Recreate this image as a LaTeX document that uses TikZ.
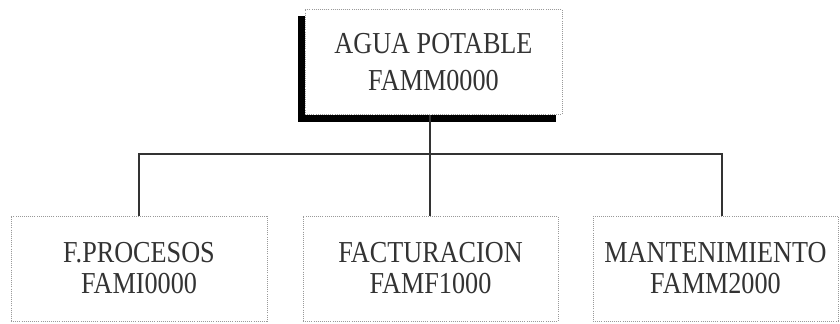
\documentclass[tikz,border=0pt]{standalone}
\usepackage{fontspec}
\setmainfont[FakeStretch=0.86]{Liberation Serif}
\usetikzlibrary{shadows}

\begin{document}
\begin{tikzpicture}[x=0.03cm,y=-0.03cm,
		famname/.style={draw=gray!80,densely dotted,line width=0.8pt,fill=white,
			align=center,inner sep=0pt,minimum height=3.15cm,
			font=\fontsize{26}{26.5}\selectfont,text=black!80},
		rootbox/.style={famname,minimum width=7.71cm,font=\fontsize{26}{31.5}\selectfont,
			copy shadow={shadow xshift=-0.21cm,shadow yshift=-0.21cm,fill=black,draw=black,solid}},
		link/.style={draw=black!80,line width=1.6pt}]
		\useasboundingbox (0,0) rectangle (840,323);
		% root
		\node[rootbox] (agua) at (433.5,62) {AGUA POTABLE\\FAMM0000};
		% families
		\node[famname,minimum width=7.68cm] (proc) at (139,268.5) {F.PROCESOS\\FAMI0000};
		\node[famname,minimum width=7.65cm] (fact) at (430.5,268.5) {FACTURACION\\FAMF1000};
		\node[famname,minimum width=7.35cm] (mant) at (715.5,268.5) {MANTENIMIENTO\\FAMM2000};
		\coordinate (bus) at (430,154);
		\coordinate (mtop) at (722,216);
		\draw[link] (agua.south -| bus) -- (bus);
		\draw[link] (proc.north) |- (bus) -| (mtop);
		\draw[link] (bus) -- (fact.north -| bus);
		\end{tikzpicture}
\end{document}
